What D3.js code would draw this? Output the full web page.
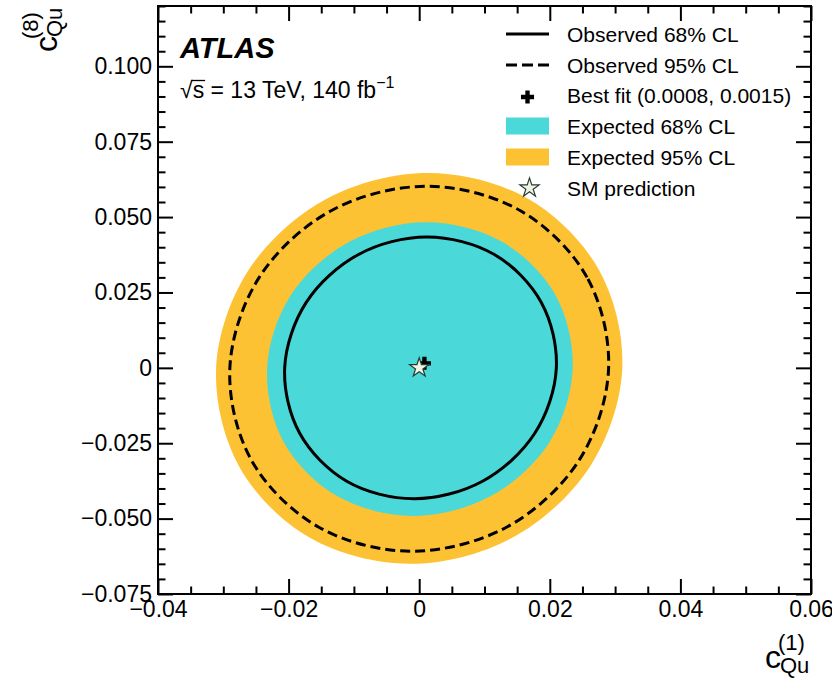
<!DOCTYPE html>
<html>
<head>
<meta charset="utf-8">
<script src="https://cdn.jsdelivr.net/npm/d3@7"></script>
<style>
  html, body { margin: 0; padding: 0; background: #fff; }
  svg { display: block; }
  text { font-family: "Liberation Sans", Arial, Helvetica, sans-serif; fill: #000; }
</style>
</head>
<body>
<svg id="chart" width="832" height="678"></svg>
<script>
// Axis ticks
const xMajor = [-0.04, -0.02, 0, 0.02, 0.04, 0.06];
const xTickLabels = ["\u22120.04", "\u22120.02", "0", "0.02", "0.04", "0.06"];
const yMajor = [-0.075, -0.05, -0.025, 0, 0.025, 0.05, 0.075, 0.1];
const yTickLabels = ["\u22120.075", "\u22120.050", "\u22120.025", "0", "0.025", "0.050", "0.075", "0.100"];

// Contours in the (c_Qu^(1), c_Qu^(8)) plane
const expected95 = [
  [0.0311, -0.0002], [0.0276, 0.0322], [0.0168, 0.0559], [0.0014, 0.0646],
  [-0.0143, 0.0559], [-0.0262, 0.0322], [-0.0311, -0.0002], [-0.0276, -0.0326],
  [-0.0168, -0.0563], [-0.0014, -0.0650], [0.0143, -0.0563], [0.0262, -0.0326]
];
const expected68 = [
  [0.0235, -0.0004], [0.0209, 0.0240], [0.0127, 0.0418], [0.0011, 0.0483],
  [-0.0107, 0.0418], [-0.0197, 0.0240], [-0.0233, -0.0004], [-0.0207, -0.0248],
  [-0.0125, -0.0426], [-0.0009, -0.0491], [0.0109, -0.0426], [0.0199, -0.0248]
];
const observed95 = [
  [0.0290, -0.0003], [0.0257, 0.0300], [0.0155, 0.0521], [0.0012, 0.0602],
  [-0.0135, 0.0521], [-0.0245, 0.0300], [-0.0290, -0.0003], [-0.0257, -0.0306],
  [-0.0155, -0.0527], [-0.0012, -0.0608], [0.0135, -0.0527], [0.0245, -0.0306]
];
const observed68 = [
  [0.0210, 0.0000], [0.0187, 0.0217], [0.0115, 0.0376], [0.0012, 0.0434],
  [-0.0093, 0.0376], [-0.0173, 0.0217], [-0.0206, 0.0000], [-0.0183, -0.0217],
  [-0.0111, -0.0376], [-0.0008, -0.0434], [0.0097, -0.0376], [0.0177, -0.0217]
];
const bestFit = [0.0008, 0.0015];
const smPoint = [0, 0];

const legendLabels = [
  "Observed 68% CL", "Observed 95% CL", "Best fit (0.0008, 0.0015)",
  "Expected 68% CL", "Expected 95% CL", "SM prediction"
];

const COL_CYAN = "#4ad8d8";
const COL_ORANGE = "#fdc233";
const STAR_FILL = "#eef5e6";

const svg = d3.select("#chart");
svg.append("rect").attr("width", 832).attr("height", 678).attr("fill", "#fff");

const L = 158, R = 811, T = 6, B = 594;
const x = d3.scaleLinear().domain([-0.04, 0.06]).range([L, R]);
const y = d3.scaleLinear().domain([-0.075, 0.12]).range([B, T]);

const plot = svg.append("g");
const line = d3.line().x(d => x(d[0])).y(d => y(d[1])).curve(d3.curveCatmullRomClosed.alpha(0.5));

plot.append("path").datum(expected95).attr("d", line).attr("fill", COL_ORANGE);
plot.append("path").datum(expected68).attr("d", line).attr("fill", COL_CYAN);
plot.append("path").datum(observed68).attr("d", line)
  .attr("fill", "none").attr("stroke", "#000").attr("stroke-width", 3);
plot.append("path").datum(observed95).attr("d", line)
  .attr("fill", "none").attr("stroke", "#000").attr("stroke-width", 3)
  .attr("stroke-dasharray", "10,5");

const crossSym = d3.symbol().type(d3.symbolCross).size(95);
const starSym = d3.symbol().type(d3.symbolStar).size(115);

plot.append("path").attr("d", crossSym())
  .attr("transform", `translate(${x(bestFit[0])},${y(bestFit[1])})`)
  .attr("fill", "#000");
plot.append("path").attr("d", starSym())
  .attr("transform", `translate(${x(smPoint[0])},${y(smPoint[1])})`)
  .attr("fill", STAR_FILL).attr("stroke", "#2b3a30").attr("stroke-width", 1.2);

// Frame and ticks (inside, on all four sides)
const xMinor = d3.range(-0.04, 0.0601, 0.005).filter(v => !xMajor.some(m => Math.abs(m - v) < 1e-9));
const yMinor = d3.range(-0.075, 0.1201, 0.005).filter(v => !yMajor.some(m => Math.abs(m - v) < 1e-9));

function styleAxis(g) {
  g.select(".domain").remove();
  g.selectAll(".tick line").attr("stroke", "#000").attr("stroke-width", 2);
}

const fmtX = (d) => xTickLabels[xMajor.indexOf(d)];
const fmtY = (d) => yTickLabels[yMajor.indexOf(d)];

const gxB = svg.append("g").attr("transform", `translate(0,${B})`)
  .call(d3.axisBottom(x).tickValues(xMajor).tickFormat(fmtX).tickSize(-15).tickPadding(7));
styleAxis(gxB);
gxB.selectAll("text").attr("font-size", 23).attr("font-family", "Liberation Sans, Arial, sans-serif");
const gxBm = svg.append("g").attr("transform", `translate(0,${B})`)
  .call(d3.axisBottom(x).tickValues(xMinor).tickFormat("").tickSize(-7.5));
styleAxis(gxBm);

const gxT = svg.append("g").attr("transform", `translate(0,${T})`)
  .call(d3.axisTop(x).tickValues(xMajor).tickFormat("").tickSize(-15));
styleAxis(gxT);
const gxTm = svg.append("g").attr("transform", `translate(0,${T})`)
  .call(d3.axisTop(x).tickValues(xMinor).tickFormat("").tickSize(-7.5));
styleAxis(gxTm);

const gyL = svg.append("g").attr("transform", `translate(${L},0)`)
  .call(d3.axisLeft(y).tickValues(yMajor).tickFormat(fmtY).tickSize(-15).tickPadding(6));
styleAxis(gyL);
gyL.selectAll("text").attr("font-size", 23).attr("font-family", "Liberation Sans, Arial, sans-serif");
const gyLm = svg.append("g").attr("transform", `translate(${L},0)`)
  .call(d3.axisLeft(y).tickValues(yMinor).tickFormat("").tickSize(-7.5));
styleAxis(gyLm);

const gyR = svg.append("g").attr("transform", `translate(${R},0)`)
  .call(d3.axisRight(y).tickValues(yMajor).tickFormat("").tickSize(-15));
styleAxis(gyR);
const gyRm = svg.append("g").attr("transform", `translate(${R},0)`)
  .call(d3.axisRight(y).tickValues(yMinor).tickFormat("").tickSize(-7.5));
styleAxis(gyRm);

svg.append("rect").attr("x", L).attr("y", T).attr("width", R - L).attr("height", B - T)
  .attr("fill", "none").attr("stroke", "#000").attr("stroke-width", 2);

// Axis titles
const xt = svg.append("g");
xt.append("text").attr("x", 765).attr("y", 668).attr("font-size", 32).text("c");
xt.append("text").attr("x", 778).attr("y", 650).attr("font-size", 22).text("(1)");
xt.append("text").attr("x", 780).attr("y", 673).attr("font-size", 22).text("Qu");

const yt = svg.append("g").attr("transform", "translate(57,52) rotate(-90)");
yt.append("text").attr("x", 0).attr("y", 0).attr("font-size", 32).text("c");
yt.append("text").attr("x", 13).attr("y", -19).attr("font-size", 22).text("(8)");
yt.append("text").attr("x", 15).attr("y", 5).attr("font-size", 22).text("Qu");

// ATLAS label
svg.append("text").attr("x", 180).attr("y", 58)
  .attr("font-size", 29).attr("font-weight", "bold").attr("font-style", "italic")
  .text("ATLAS");

const en = svg.append("text").attr("x", 180).attr("y", 98).attr("font-size", 23);
en.append("tspan").text("\u221A");
en.append("tspan").text("s");
en.append("tspan").text(" = 13 TeV, 140 fb");
en.append("tspan").attr("dy", -10).attr("font-size", 16).text("\u22121");
// overline of the square root
{
  const sx = en.node().getStartPositionOfChar(1).x;
  const ex = en.node().getEndPositionOfChar(1).x;
  svg.append("line").attr("x1", sx - 1).attr("x2", ex + 1)
    .attr("y1", 80.5).attr("y2", 80.5).attr("stroke", "#000").attr("stroke-width", 1.3);
}

// Legend
const legX = 506, legW = 43, textX = 567;
const rowY = [34, 65, 95.5, 126, 157, 188];
const leg = svg.append("g");
legendLabels.forEach((lab, i) => {
  leg.append("text").attr("x", textX).attr("y", rowY[i] + 7.5).attr("font-size", 21).text(lab);
});
leg.append("line").attr("x1", legX).attr("x2", legX + legW).attr("y1", rowY[0]).attr("y2", rowY[0])
  .attr("stroke", "#000").attr("stroke-width", 3);
leg.append("line").attr("x1", legX).attr("x2", legX + legW).attr("y1", rowY[1]).attr("y2", rowY[1])
  .attr("stroke", "#000").attr("stroke-width", 3).attr("stroke-dasharray", "11,5");
leg.append("path").attr("d", crossSym()).attr("transform", `translate(${legX + legW / 2},${rowY[2] + 1.5})`).attr("fill", "#000");
leg.append("rect").attr("x", legX).attr("y", rowY[3] - 8.5).attr("width", legW).attr("height", 17).attr("fill", COL_CYAN);
leg.append("rect").attr("x", legX).attr("y", rowY[4] - 8.5).attr("width", legW).attr("height", 17).attr("fill", COL_ORANGE);
leg.append("path").attr("d", starSym()).attr("transform", `translate(${legX + legW / 2 + 2},${rowY[5]})`)
  .attr("fill", STAR_FILL).attr("stroke", "#2b3a30").attr("stroke-width", 1.2);
</script>
</body>
</html>
